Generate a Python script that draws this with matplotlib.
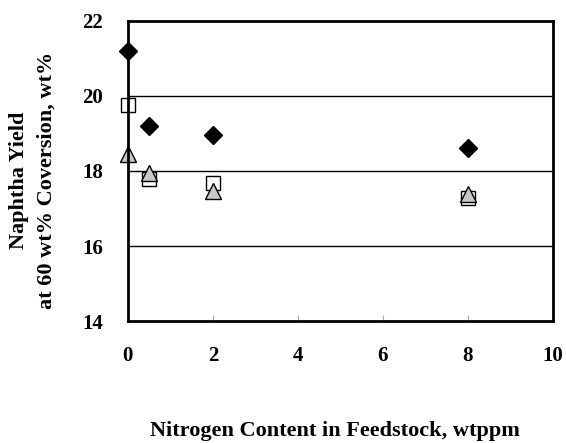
import matplotlib
matplotlib.use("Agg")
import matplotlib.pyplot as plt

nitrogen = [0, 0.5, 2, 8]
diamond_yield = [21.2, 19.2, 18.95, 18.62]
square_yield = [19.75, 17.8, 17.68, 17.27]
triangle_yield = [18.45, 17.95, 17.47, 17.38]
xticks = [0, 2, 4, 6, 8, 10]
yticks = [14, 16, 18, 20, 22]

plt.rcParams['font.family'] = ['Liberation Serif', 'DejaVu Serif']
plt.rcParams['font.weight'] = 'bold'

fig = plt.figure(figsize=(5.66, 4.43), dpi=100)
ax = fig.add_axes([0.226, 0.275, 0.751, 0.678])

ax.set_xlim(0, 10)
ax.set_ylim(14, 22)
for y in [16, 18, 20]:
    ax.axhline(y, color='black', lw=1.0, zorder=1)

ax.plot(nitrogen, diamond_yield, linestyle='none', marker='D', ms=9,
        mfc='black', mec='black', clip_on=False, zorder=3)
ax.plot(nitrogen, square_yield, linestyle='none', marker='s', ms=10,
        mfc='white', mec='black', mew=1.0, clip_on=False, zorder=3)
ax.plot(nitrogen, triangle_yield, linestyle='none', marker='^', ms=11,
        mfc='#c8c8c8', mec='black', mew=1.0, clip_on=False, zorder=4)

ax.set_xticks(xticks)
ax.set_yticks(yticks)
ax.tick_params(axis='x', direction='in', length=4, color='#aaaaaa', width=0.8,
               labelsize=15, pad=18)
ax.tick_params(axis='y', length=0, labelsize=15, pad=18)
for lab in ax.get_xticklabels() + ax.get_yticklabels():
    lab.set_fontweight('bold')
for s in ax.spines.values():
    s.set_linewidth(2)
    s.set_zorder(5)

fig.text(0.058, 0.592, 'Naphtha Yield\nat 60 wt% Coversion, wt%', rotation=90,
         ha='center', va='center', multialignment='center', fontsize=16,
         fontweight='bold', linespacing=1.45)
fig.text(0.592, 0.027, 'Nitrogen Content in Feedstock, wtppm', ha='center',
         va='center', fontsize=16, fontweight='bold')

fig.savefig('out.png', dpi=100)
